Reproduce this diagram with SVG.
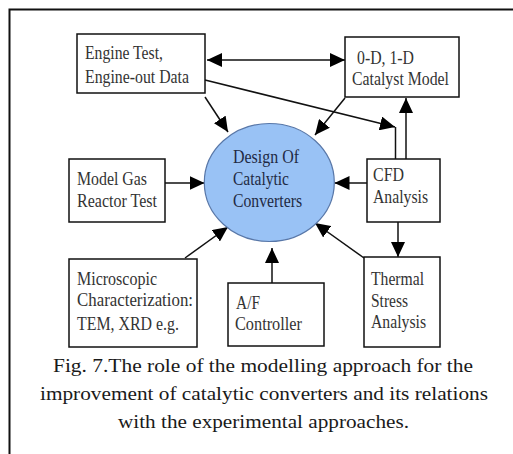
<svg xmlns="http://www.w3.org/2000/svg" width="513" height="454" viewBox="0 0 513 454">
<style>
.box{fill:#fff;stroke:#111;stroke-width:1.5}
.t{font-family:"Liberation Serif","Times New Roman",serif;font-size:18px;fill:#333}
.ct{font-family:"Liberation Serif","Times New Roman",serif;font-size:18px;fill:#1f2a44}
.cap{font-family:"Liberation Serif","Times New Roman",serif;font-size:19px;fill:#1a1a1a}
.c{stroke:#111;stroke-width:1.5;fill:none}
.a{marker-end:url(#ah)}
</style>
<defs>
<marker id="ah" viewBox="0 0 15 14" refX="15" refY="7" markerWidth="15" markerHeight="14" markerUnits="userSpaceOnUse" orient="auto-start-reverse">
<path d="M0,0 L15,7 L0,14 z" fill="#000"/>
</marker>
</defs>
<rect width="513" height="454" fill="#fff"/>
<path d="M9.5,454 V9.5 H513" fill="none" stroke="#111" stroke-width="2"/>

<g id="connectors">
<line class="c" x1="207" y1="60" x2="345" y2="60" marker-start="url(#ah)" marker-end="url(#ah)"/>
<line class="c a" x1="205" y1="97" x2="228" y2="132"/>
<line class="c a" x1="345" y1="98" x2="315" y2="135"/>
<line class="c a" x1="205" y1="80" x2="395" y2="127"/>
<line class="c" x1="395.5" y1="127" x2="395.5" y2="159"/>
<line class="c a" x1="406" y1="159" x2="406" y2="98"/>
<line class="c a" x1="165" y1="183" x2="204.5" y2="183"/>
<line class="c a" x1="367" y1="183" x2="334.5" y2="183"/>
<line class="c a" x1="398" y1="222" x2="398" y2="257"/>
<line class="c a" x1="185" y1="258" x2="228" y2="227"/>
<line class="c a" x1="272" y1="283" x2="272" y2="248"/>
<line class="c a" x1="364" y1="258" x2="315" y2="223"/>
</g>

<g id="engine-test">
<rect class="box" x="77" y="34" width="128" height="59"/>
<text class="t" x="85" y="59" textLength="78" lengthAdjust="spacingAndGlyphs">Engine Test,</text>
<text class="t" x="85" y="83" textLength="104" lengthAdjust="spacingAndGlyphs">Engine-out Data</text>
</g>

<g id="catalyst-model">
<rect class="box" x="345" y="37" width="114" height="60"/>
<text class="t" x="357" y="64" textLength="57" lengthAdjust="spacingAndGlyphs">0-D, 1-D</text>
<text class="t" x="352" y="85" textLength="97" lengthAdjust="spacingAndGlyphs">Catalyst Model</text>
</g>

<g id="model-gas">
<rect class="box" x="69" y="159" width="96" height="63"/>
<text class="t" x="77" y="185" textLength="70" lengthAdjust="spacingAndGlyphs">Model Gas</text>
<text class="t" x="77" y="207" textLength="80" lengthAdjust="spacingAndGlyphs">Reactor Test</text>
</g>

<g id="design">
<ellipse cx="269.3" cy="182.5" rx="65" ry="59" fill="#99c2f5" stroke="#5877a8" stroke-width="1.2"/>
<text class="ct" x="233" y="163" textLength="66" lengthAdjust="spacingAndGlyphs">Design Of</text>
<text class="ct" x="233" y="185" textLength="56" lengthAdjust="spacingAndGlyphs">Catalytic</text>
<text class="ct" x="233" y="207" textLength="69" lengthAdjust="spacingAndGlyphs">Converters</text>
</g>

<g id="cfd">
<rect class="box" x="367" y="159" width="73" height="63"/>
<text class="t" x="373" y="181" textLength="31" lengthAdjust="spacingAndGlyphs">CFD</text>
<text class="t" x="373" y="203" textLength="55" lengthAdjust="spacingAndGlyphs">Analysis</text>
</g>

<g id="microscopic">
<rect class="box" x="69" y="259" width="128" height="88"/>
<text class="t" x="77" y="285" textLength="80" lengthAdjust="spacingAndGlyphs">Microscopic</text>
<text class="t" x="77" y="306" textLength="116" lengthAdjust="spacingAndGlyphs">Characterization:</text>
<text class="t" x="77" y="330" textLength="102" lengthAdjust="spacingAndGlyphs">TEM, XRD e.g.</text>
</g>

<g id="af-controller">
<rect class="box" x="228" y="283" width="96" height="63"/>
<text class="t" x="236" y="309" textLength="24" lengthAdjust="spacingAndGlyphs">A/F</text>
<text class="t" x="235" y="330" textLength="67" lengthAdjust="spacingAndGlyphs">Controller</text>
</g>

<g id="thermal">
<rect class="box" x="364" y="257" width="76" height="90"/>
<text class="t" x="371" y="285" textLength="53" lengthAdjust="spacingAndGlyphs">Thermal</text>
<text class="t" x="371" y="307" textLength="37" lengthAdjust="spacingAndGlyphs">Stress</text>
<text class="t" x="371" y="328" textLength="55" lengthAdjust="spacingAndGlyphs">Analysis</text>
</g>

<g id="caption">
<text class="cap" x="53" y="372" textLength="420" lengthAdjust="spacingAndGlyphs">Fig. 7.The role of the modelling approach for the</text>
<text class="cap" x="40" y="400" textLength="448" lengthAdjust="spacingAndGlyphs">improvement of catalytic converters and its relations</text>
<text class="cap" x="118" y="428" textLength="291" lengthAdjust="spacingAndGlyphs">with the experimental approaches.</text>
</g>
</svg>
